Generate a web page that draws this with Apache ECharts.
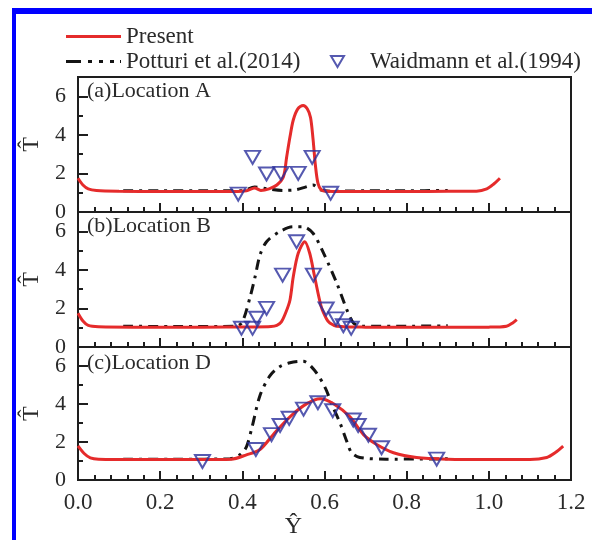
<!DOCTYPE html>
<html>
<head>
<meta charset="utf-8">
<script src="https://cdn.jsdelivr.net/npm/echarts@6/dist/echarts.min.js"></script>
<style>
  html, body { margin: 0; padding: 0; background: #fff; }
  #chart { width: 592px; height: 540px; }
</style>
</head>
<body>
<div id="chart"></div>
<script>
// panel titles
const panelNames = ['(a)Location A', '(b)Location B', '(c)Location D']
const seriesNames = ['Present', 'Potturi et al.(2014)', 'Waidmann et al.(1994)']

// location A
const presentA = [[0, 1.75], [0.012, 1.4], [0.025, 1.2], [0.045, 1.12], [0.1, 1.08], [0.2, 1.06], [0.3, 1.06], [0.38, 1.06],
  [0.41, 1.1], [0.43, 1.25], [0.445, 1.12], [0.465, 1.2], [0.484, 1.4], [0.5, 1.83], [0.508, 2.87], [0.516, 3.9],
  [0.524, 4.77], [0.535, 5.35], [0.548, 5.52], [0.558, 5.35], [0.566, 4.9], [0.572, 3.8], [0.578, 2.4], [0.584, 1.5],
  [0.592, 1.15], [0.605, 1.08], [0.7, 1.06], [0.8, 1.06], [0.9, 1.07], [0.97, 1.08], [0.995, 1.2], [1.012, 1.45], [1.027, 1.75]]
const potturiA = [[0.11, 1.1], [0.2, 1.1], [0.3, 1.1], [0.4, 1.1], [0.43, 1.3], [0.46, 1.2], [0.5, 1.12], [0.53, 1.15],
  [0.555, 1.3], [0.572, 1.4], [0.59, 1.15], [0.62, 1.08], [0.7, 1.1], [0.8, 1.1], [0.9, 1.12]]
const waidmannA = [[0.39, 0.93], [0.425, 2.83], [0.459, 1.97], [0.494, 2.0], [0.536, 2.0], [0.57, 2.83], [0.615, 0.97]]

// location B
const presentB = [[0, 1.75], [0.012, 1.35], [0.025, 1.12], [0.05, 1.05], [0.15, 1.03], [0.3, 1.03], [0.42, 1.04], [0.47, 1.06],
  [0.484, 1.12], [0.495, 1.3], [0.506, 1.8], [0.516, 2.44], [0.524, 3.64], [0.536, 4.86], [0.552, 5.46], [0.564, 4.86],
  [0.576, 3.64], [0.592, 2.09], [0.605, 1.45], [0.613, 1.24], [0.63, 1.08], [0.7, 1.03], [0.85, 1.02], [1.0, 1.03],
  [1.043, 1.08], [1.058, 1.25], [1.068, 1.42]]
const potturiB = [[0.11, 1.08], [0.25, 1.06], [0.385, 1.08], [0.4, 1.3], [0.419, 2.6], [0.431, 3.64], [0.443, 4.77],
  [0.459, 5.46], [0.49, 5.97], [0.523, 6.23], [0.548, 6.23], [0.572, 5.9], [0.598, 4.85], [0.63, 3.3], [0.655, 1.9],
  [0.671, 1.23], [0.69, 1.08], [0.8, 1.08], [0.9, 1.1]]
const waidmannB = [[0.398, 0.97], [0.425, 0.97], [0.435, 1.49], [0.459, 2.0], [0.498, 3.73], [0.532, 5.46], [0.573, 3.73],
  [0.604, 1.97], [0.628, 1.46], [0.646, 1.1], [0.665, 0.97]]

// location D
const presentC = [[0, 1.8], [0.015, 1.4], [0.03, 1.17], [0.05, 1.1], [0.15, 1.08], [0.3, 1.08], [0.373, 1.1], [0.41, 1.33],
  [0.443, 1.61], [0.475, 2.39], [0.516, 3.33], [0.557, 4.02], [0.59, 4.28], [0.622, 4.02], [0.662, 3.33], [0.695, 2.39],
  [0.727, 1.87], [0.768, 1.44], [0.824, 1.19], [0.9, 1.1], [1.0, 1.08], [1.1, 1.08], [1.141, 1.19], [1.162, 1.45], [1.181, 1.79]]
const potturiC = [[0.11, 1.1], [0.25, 1.1], [0.37, 1.12], [0.395, 1.35], [0.41, 1.75], [0.423, 2.73], [0.443, 4.45],
  [0.467, 5.48], [0.49, 5.95], [0.516, 6.17], [0.548, 6.25], [0.577, 5.74], [0.603, 4.8], [0.617, 4.02], [0.638, 2.99],
  [0.654, 2.05], [0.666, 1.44], [0.686, 1.19], [0.75, 1.1], [0.9, 1.12]]
const waidmannC = [[0.303, 0.98], [0.433, 1.61], [0.471, 2.39], [0.492, 2.87], [0.514, 3.25], [0.549, 3.73], [0.584, 4.07],
  [0.62, 3.65], [0.67, 3.16], [0.682, 2.87], [0.707, 2.36], [0.739, 1.7], [0.873, 1.1]]

// ticks
const yMajorTicks = [0, 2, 4, 6]
const yMinorTicks = [1, 3, 5]

const presentData = [presentA, presentB, presentC]
const potturiData = [potturiA, potturiB, potturiC]
const waidmannData = [waidmannA, waidmannB, waidmannC]

const serif = '"Liberation Serif", "Times New Roman", serif'
const RED = '#e52b2b'
const BLACK = '#141414'
const NAVY = '#2a2f9c'
const AXIS = '#1e1e1e'
const TEXT = '#2a2a2a'

const gridBoxes = [
  { top: 77, height: 135 },
  { top: 212, height: 135 },
  { top: 347, height: 136 },
]

const chart = echarts.init(document.getElementById('chart'))

const grid = gridBoxes.map(b => ({
  left: 78, right: 21, top: b.top, height: b.height,
  show: true, borderColor: AXIS, borderWidth: 2, backgroundColor: '#fff',
}))

const xAxis = gridBoxes.map((b, i) => ({
  type: 'value', gridIndex: i, min: 0, max: 1.2, interval: 0.2,
  axisLine: { show: true, lineStyle: { color: AXIS, width: 2 } },
  axisTick: { show: true, inside: true, length: 9, lineStyle: { color: AXIS, width: 2 } },
  minorTick: { show: true, splitNumber: 5, length: 5, lineStyle: { color: AXIS, width: 2 } },
  splitLine: { show: false },
  axisLabel: {
    show: i === 2, margin: 11, fontFamily: serif, fontSize: 23, color: TEXT,
    formatter: v => v.toFixed(1),
  },
  name: i === 2 ? 'Ŷ' : '',
  nameLocation: 'middle', nameGap: 33,
  nameTextStyle: { fontFamily: serif, fontSize: 24, color: TEXT, padding: [0, 62, 0, 0] },
}))

const yAxis = []
gridBoxes.forEach((b, i) => {
  yAxis.push({
    type: 'value', gridIndex: i, min: 0, max: 7, interval: 1,
    axisLine: { show: true, lineStyle: { color: AXIS, width: 2 } },
    axisTick: { show: true, inside: true, length: 10, customValues: yMajorTicks, lineStyle: { color: AXIS, width: 2 } },
    splitLine: { show: false },
    axisLabel: { customValues: yMajorTicks, margin: 12, fontFamily: serif, fontSize: 22, color: TEXT },
    name: 'T\u0302', nameLocation: 'middle', nameGap: 30, nameRotate: 90,
    nameTextStyle: { fontFamily: serif, fontSize: 24, color: TEXT },
  })
  yAxis.push({
    type: 'value', gridIndex: i, min: 0, max: 7, interval: 1, position: 'left',
    axisLine: { show: false },
    axisTick: { show: true, inside: true, length: 5, customValues: yMinorTicks, lineStyle: { color: AXIS, width: 2 } },
    axisLabel: { show: false },
    splitLine: { show: false },
  })
})

const series = []
gridBoxes.forEach((b, i) => {
  series.push({
    name: seriesNames[0], type: 'line', xAxisIndex: i, yAxisIndex: i * 2,
    data: presentData[i], smooth: 0.3, showSymbol: false, symbol: 'none',
    lineStyle: { color: RED, width: 3 }, itemStyle: { color: RED }, z: 3,
  })
  series.push({
    name: seriesNames[1], type: 'line', xAxisIndex: i, yAxisIndex: i * 2,
    data: potturiData[i], smooth: 0.3, showSymbol: false, symbol: 'none',
    lineStyle: { color: BLACK, width: 3, type: [10, 6, 3, 6] }, itemStyle: { color: BLACK }, z: 2,
  })
  series.push({
    name: seriesNames[2], type: 'scatter', xAxisIndex: i, yAxisIndex: i * 2,
    data: waidmannData[i], symbol: 'triangle', symbolRotate: 180, symbolSize: [15, 13],
    itemStyle: { color: 'rgba(255,255,255,0)', borderColor: NAVY, borderWidth: 2 }, z: 4,
  })
})

const legendText = { fontFamily: serif, fontSize: 23, color: TEXT }

const option = {
  animation: false,
  backgroundColor: '#fff',
  title: panelNames.map((t, i) => ({
    text: t, left: 87, top: [80, 215, 352][i], padding: 0,
    textStyle: { fontFamily: serif, fontSize: 22, fontWeight: 'normal', color: TEXT },
  })),
  legend: [
    {
      data: [seriesNames[0]], left: 66, top: 25, padding: 0, itemWidth: 55, itemHeight: 3,
      icon: 'path://M0,0h55v3h-55z', textStyle: legendText,
    },
    {
      data: [seriesNames[1]], left: 66, top: 50, padding: 0, itemWidth: 55, itemHeight: 3,
      icon: 'path://M0,0h15v3h-15z M22,0h4v3h-4z M33,0h4v3h-4z M44,0h4v3h-4z M54,0h1v3h-1z',
      itemStyle: { color: BLACK }, textStyle: legendText,
    },
    {
      data: [seriesNames[2]], left: 330, top: 50, padding: 0, itemWidth: 13, itemHeight: 11,
      icon: 'path://M0,0L13,0L6.5,11Z',
      itemStyle: { color: 'rgba(255,255,255,0)', borderColor: NAVY, borderWidth: 2 },
      textStyle: Object.assign({ padding: [0, 0, 0, 21] }, legendText),
    },
  ],
  grid: grid,
  xAxis: xAxis,
  yAxis: yAxis,
  series: series,
  graphic: [
    { type: 'rect', left: 12, top: 8, shape: { width: 4, height: 532 }, style: { fill: '#0000ff' }, z: 100 },
    { type: 'rect', left: 12, top: 8, shape: { width: 580, height: 6 }, style: { fill: '#0000ff' }, z: 100 },
  ],
}

chart.setOption(option)
</script>
</body>
</html>
